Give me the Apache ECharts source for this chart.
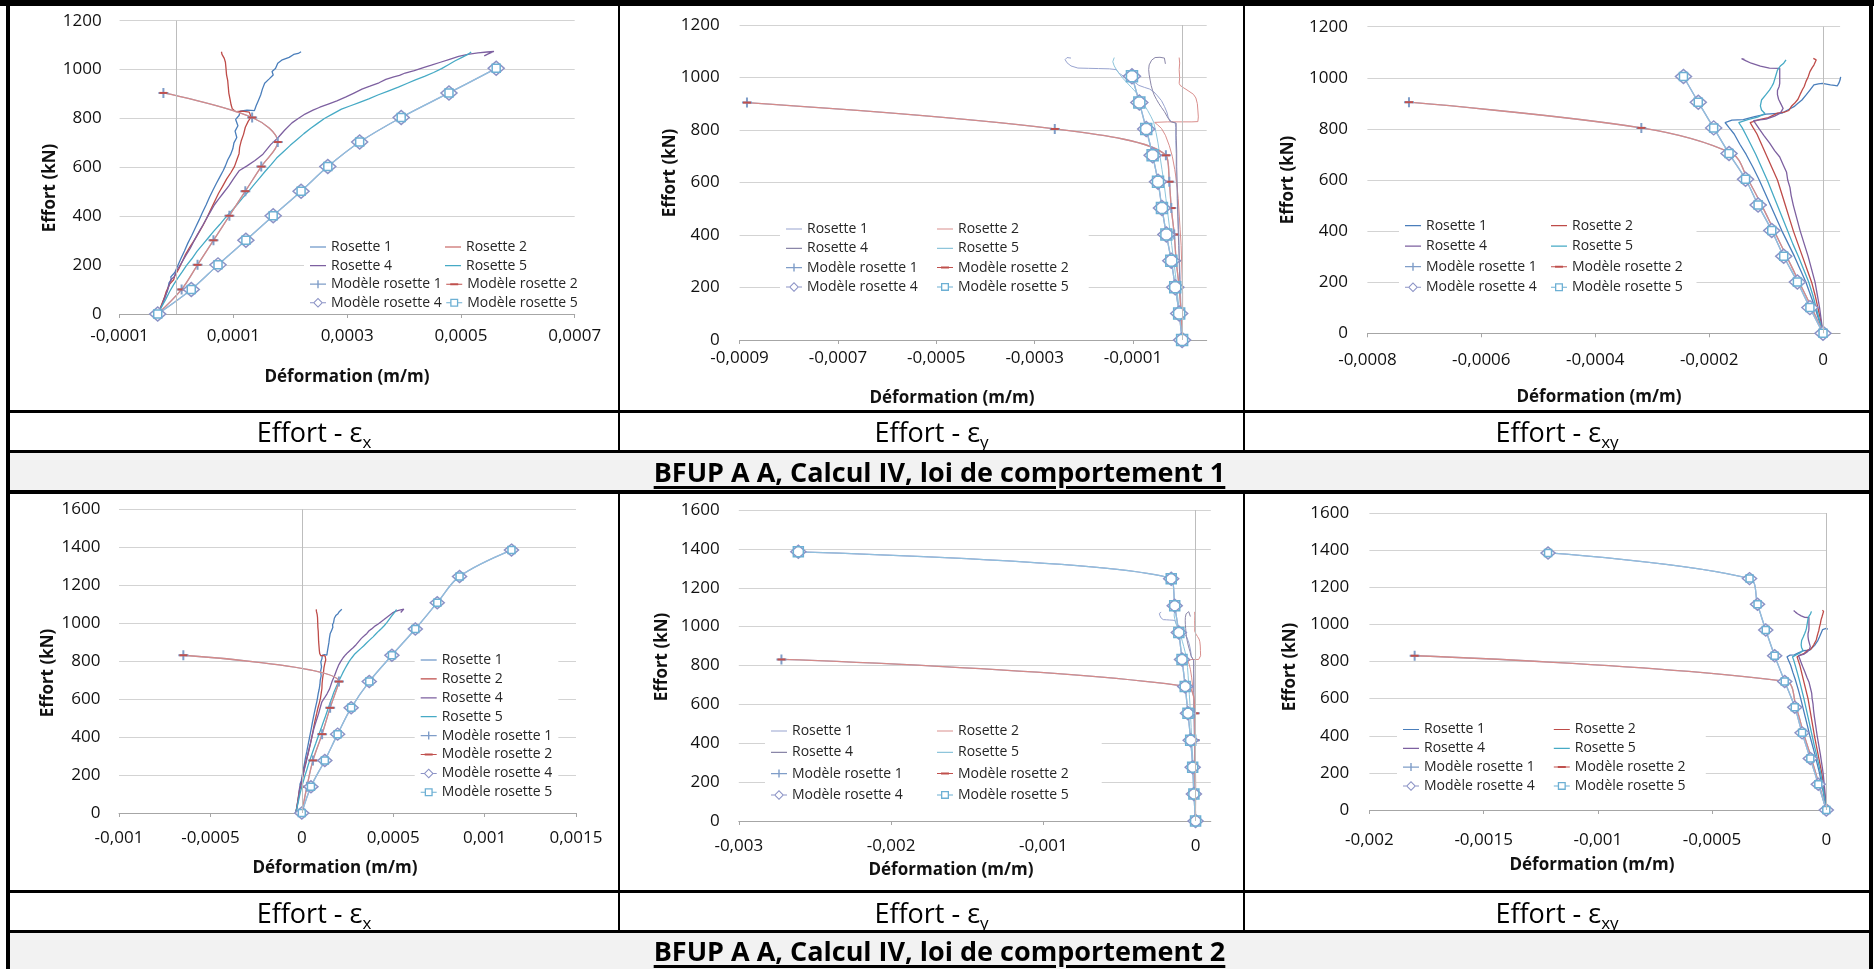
<!DOCTYPE html>
<html lang="fr">
<head>
<meta charset="utf-8">
<title>Effort - déformation, BFUP A A, Calcul IV</title>
<script src="https://cdn.jsdelivr.net/npm/echarts@6/dist/echarts.min.js"></script>
<style>
html,body{margin:0;padding:0;background:#fff;}
body{position:relative;width:1874px;height:969px;overflow:hidden;font-family:"Open Sans","Noto Sans",sans-serif;color:#000;}
.chart{position:absolute;left:0;top:0;width:1874px;height:969px;z-index:2;}
.bk{position:absolute;background:#000;z-index:5;}
.gray{position:absolute;background:#f2f2f2;z-index:0;}
.lbl{position:absolute;z-index:6;text-align:center;font-size:27px;line-height:36px;height:36px;white-space:nowrap;}
.lbl sub{font-size:17px;vertical-align:-6px;line-height:0;}
.ttl{position:absolute;z-index:6;text-align:center;font-size:27px;font-weight:700;line-height:36px;height:36px;text-decoration:underline;text-decoration-thickness:2.5px;text-underline-offset:4px;white-space:nowrap;}
</style>
</head>
<body>
<div class="gray" style="left:10px;top:453px;width:1859px;height:37px"></div>
<div class="gray" style="left:10px;top:933px;width:1859px;height:36px"></div>

<div id="pA" class="chart"></div>
<div id="pB" class="chart"></div>
<div id="pC" class="chart"></div>
<div id="pD" class="chart"></div>
<div id="pE" class="chart"></div>
<div id="pF" class="chart"></div>

<!-- table frame -->
<div class="bk" style="left:0;top:0;width:1874px;height:6px"></div>
<div class="bk" style="left:6px;top:0;width:4px;height:969px"></div>
<div class="bk" style="left:1869px;top:0;width:4px;height:969px"></div>
<div class="bk" style="left:6px;top:410px;width:1867px;height:3px"></div>
<div class="bk" style="left:6px;top:450px;width:1867px;height:3px"></div>
<div class="bk" style="left:6px;top:490px;width:1867px;height:4px"></div>
<div class="bk" style="left:6px;top:890px;width:1867px;height:3px"></div>
<div class="bk" style="left:6px;top:930px;width:1867px;height:3px"></div>
<div class="bk" style="left:618px;top:0;width:2px;height:452px"></div>
<div class="bk" style="left:1243px;top:0;width:2px;height:452px"></div>
<div class="bk" style="left:618px;top:492px;width:2px;height:440px"></div>
<div class="bk" style="left:1243px;top:492px;width:2px;height:440px"></div>

<div class="lbl" style="left:10px;width:608px;top:414px">Effort - ε<sub>x</sub></div>
<div class="lbl" style="left:620px;width:623px;top:414px">Effort - ε<sub>y</sub></div>
<div class="lbl" style="left:1245px;width:624px;top:414px">Effort - ε<sub>xy</sub></div>
<div class="ttl" style="left:10px;width:1859px;top:454px">BFUP A A, Calcul IV, loi de comportement 1</div>
<div class="lbl" style="left:10px;width:608px;top:895px">Effort - ε<sub>x</sub></div>
<div class="lbl" style="left:620px;width:623px;top:895px">Effort - ε<sub>y</sub></div>
<div class="lbl" style="left:1245px;width:624px;top:895px">Effort - ε<sub>xy</sub></div>
<div class="ttl" style="left:10px;width:1859px;top:933px">BFUP A A, Calcul IV, loi de comportement 2</div>

<script>
// ================= DATA =================
// strains in µm/m (x1e-6 m/m), loads in kN
const MICRO = 1e-6;
const NAMES = ['Rosette 1','Rosette 2','Rosette 4','Rosette 5','Modèle rosette 1','Modèle rosette 2','Modèle rosette 4','Modèle rosette 5'];

// tick labels
const xTicksA = [-0.0001, 0.0001, 0.0003, 0.0005, 0.0007];
const xTicksB = [-0.0009, -0.0007, -0.0005, -0.0003, -0.0001];
const xTicksC = [-0.0008, -0.0006, -0.0004, -0.0002, 0];
const xTicksD = [-0.001, -0.0005, 0, 0.0005, 0.001, 0.0015];
const xTicksE = [-0.003, -0.002, -0.001, 0];
const xTicksF = [-0.002, -0.0015, -0.001, -0.0005, 0];
const yTicksTop = [0, 200, 400, 600, 800, 1000, 1200];
const yTicksBottom = [0, 200, 400, 600, 800, 1000, 1200, 1400, 1600];

// measured rosettes, eps_x  [µm/m, kN]
const epsX_R1 = [[-33,0],[-27,30],[-22,62],[-16,95],[-13,128],[-9,140],[-10,152],[-3,170],[2,196],[8,228],[14,258],[20,290],[27,322],[33,352],[40,386],[45,412],[52,446],[58,478],[64,506],[70,534],[76,560],[82,586],[86,606],[90,630],[95,652],[99,676],[101,700],[106,722],[103,748],[108,770],[104,796],[110,812],[112,830],[124,834],[137,832],[140,852],[144,874],[148,896],[151,920],[155,944],[163,962],[170,978],[168,992],[174,1004],[178,1026],[186,1040],[198,1050],[206,1062],[214,1066],[219,1073]];
const epsX_R2 = [[-33,0],[-28,28],[-22,62],[-18,92],[-12,122],[-5,140],[-3,156],[4,184],[10,214],[16,244],[24,276],[32,304],[40,336],[47,364],[54,396],[60,426],[67,460],[74,494],[81,522],[88,552],[96,580],[102,604],[106,630],[110,656],[111,682],[114,710],[118,736],[121,764],[126,788],[131,806],[128,826],[116,830],[104,828],[98,840],[96,856],[94,880],[92,904],[91,930],[90,956],[88,978],[90,984],[87,1006],[86,1030],[84,1046],[80,1062],[79,1073]];
const epsX_R4 = [[-33,0],[-25,38],[-19,74],[-14,110],[-10,140],[-4,152],[0,176],[8,206],[16,238],[24,268],[31,300],[38,330],[46,362],[53,392],[60,420],[67,448],[74,470],[82,494],[92,524],[101,556],[110,586],[124,606],[138,628],[152,654],[166,694],[178,720],[190,752],[203,782],[214,800],[226,818],[240,834],[252,846],[268,860],[282,872],[298,888],[312,904],[326,920],[340,932],[356,946],[368,960],[382,970],[392,976],[402,986],[418,996],[434,1008],[448,1018],[464,1030],[480,1042],[496,1054],[512,1062],[530,1068],[546,1072],[558,1074],[548,1064],[541,1056]];
const epsX_R5 = [[-33,0],[-26,30],[-19,60],[-12,92],[-5,120],[2,146],[10,172],[18,200],[27,226],[36,256],[46,284],[56,312],[66,340],[76,366],[86,394],[96,420],[106,446],[116,474],[126,500],[136,528],[146,556],[156,584],[166,610],[176,638],[188,664],[200,690],[212,714],[224,738],[236,760],[248,780],[260,800],[274,818],[290,838],[306,852],[322,866],[338,880],[354,896],[372,912],[390,928],[406,944],[420,958],[436,972],[452,988],[466,1004],[478,1020],[490,1036],[502,1050],[512,1062],[518,1072]];

// measured rosettes, eps_y
const epsY_R1 = [[0,0],[-1,50],[-2,110],[-3,170],[-4,230],[-5,290],[-6,350],[-7,410],[-8,470],[-9,530],[-10,580],[-12,600],[-12,650],[-12,710],[-13,760],[-13,810],[-14,828],[-22,832],[-28,846],[-31,868],[-36,890],[-42,912],[-50,930],[-58,946],[-66,956],[-76,962],[-88,970],[-98,984],[-110,996],[-120,1006],[-128,1016],[-134,1030],[-148,1033],[-170,1034],[-190,1035],[-212,1036],[-226,1044],[-234,1056],[-238,1068],[-234,1076],[-226,1074]];
const epsY_R2 = [[0,0],[0,60],[1,120],[1,180],[0,240],[-1,300],[-2,360],[-4,420],[-6,480],[-8,540],[-11,600],[-15,650],[-20,700],[-26,740],[-34,780],[-42,806],[-50,820],[-56,829],[-30,831],[0,831],[20,831],[32,832],[33,850],[32,876],[31,900],[28,922],[23,936],[12,950],[2,962],[-4,970],[-6,978],[-5,1000],[-6,1030],[-5,1055],[-6,1076]];
const epsY_R4 = [[0,0],[-2,60],[-3,120],[-4,180],[-5,240],[-6,300],[-7,360],[-8,420],[-9,480],[-10,540],[-10,600],[-11,660],[-11,720],[-12,780],[-12,826],[-24,832],[-30,850],[-36,870],[-42,886],[-47,900],[-52,916],[-57,934],[-60,950],[-63,970],[-65,990],[-67,1010],[-68,1030],[-67,1048],[-62,1066],[-55,1076],[-45,1077],[-36,1074],[-34,1052]];
const epsY_R5 = [[0,0],[-3,60],[-6,120],[-10,180],[-13,240],[-17,300],[-21,360],[-25,420],[-29,480],[-33,540],[-37,600],[-41,650],[-45,700],[-49,750],[-53,790],[-58,830],[-63,850],[-70,874],[-78,898],[-86,922],[-94,944],[-103,962],[-112,980],[-120,996],[-127,1012],[-133,1028],[-138,1044],[-141,1060],[-138,1076]];

// measured rosettes, eps_xy
const epsXY_R1 = [[0,0],[-7,50],[-14,100],[-22,150],[-30,200],[-40,250],[-50,300],[-61,350],[-72,400],[-82,450],[-92,500],[-102,550],[-112,600],[-123,650],[-135,700],[-146,740],[-156,780],[-165,805],[-172,825],[-175,832],[-160,834],[-140,836],[-120,848],[-100,858],[-86,860],[-72,862],[-62,874],[-51,887],[-44,900],[-37,913],[-30,932],[-23,952],[-16,972],[-8,976],[-1,978],[6,975],[13,972],[20,970],[25,968],[28,980],[30,992],[31,1004]];
const epsXY_R2 = [[0,0],[-4,50],[-9,100],[-14,150],[-20,200],[-28,250],[-36,300],[-44,350],[-52,400],[-59,450],[-66,500],[-73,550],[-80,600],[-90,650],[-100,700],[-108,740],[-116,780],[-123,806],[-128,825],[-130,832],[-112,836],[-96,844],[-80,862],[-68,866],[-60,872],[-55,890],[-50,900],[-44,916],[-40,936],[-36,954],[-33,966],[-30,985],[-26,1004],[-23,1024],[-19,1040],[-16,1050],[-12,1070],[-17,1076]];
const epsXY_R4 = [[0,0],[-3,50],[-6,100],[-10,150],[-14,200],[-20,250],[-26,300],[-33,350],[-40,400],[-46,450],[-52,500],[-56,540],[-58,570],[-62,600],[-64,630],[-70,660],[-76,690],[-85,715],[-94,745],[-104,775],[-112,800],[-118,820],[-122,832],[-100,838],[-85,850],[-75,862],[-70,880],[-74,898],[-78,916],[-80,934],[-80,950],[-77,966],[-76,978],[-76,1010],[-76,1037],[-94,1038],[-110,1046],[-126,1057],[-135,1066],[-143,1075],[-138,1072]];
const epsXY_R5 = [[0,0],[-6,50],[-12,100],[-18,150],[-25,200],[-34,250],[-43,300],[-53,350],[-62,400],[-71,450],[-80,500],[-89,550],[-98,600],[-108,650],[-118,700],[-127,740],[-135,775],[-142,805],[-148,825],[-150,832],[-132,836],[-115,846],[-102,860],[-108,874],[-110,890],[-108,913],[-101,932],[-94,952],[-90,966],[-87,978],[-84,1000],[-80,1030],[-75,1046],[-69,1057],[-65,1070]];

// model load steps (kN)
const loadsLoi1 = [0, 100.5, 201, 301.5, 402, 502.5, 603, 703.5, 804, 904.5, 1005];
const loadsLoi2 = [0, 138.5, 277, 415.5, 554, 692.5, 831, 969.5, 1108, 1246.5, 1385];

// model strains (µm/m) : A = Modèle rosettes 1 & 2, B = Modèle rosettes 4 & 5
const modelX_loi1_A  = [-33, 9, 37, 65, 93, 121, 149, 178, 133, -23];
const modelX_loi1_B  = [-33, 26, 73, 122, 170, 219, 266, 322, 395, 479, 562];
const modelY_loi1_A  = [0, -2, -6, -12, -16, -22, -26, -33, -259, -885];
const modelY_loi1_B  = [0, -6, -14, -22, -32, -41, -49, -60, -73, -87, -102];
const modelXY_loi1_A = [0, -20, -42, -64, -86, -108, -132, -160, -319, -727];
const modelXY_loi1_B = [0, -23, -45, -69, -90, -114, -136, -165, -192, -219, -245];
const modelX_loi2_A  = [0, 28, 61, 111, 155, 203, -648];
const modelX_loi2_B  = [0, 50, 126, 196, 270, 369, 493, 621, 741, 863, 1147];
const modelY_loi2_A  = [0, -3, -4, -4, -5, -60, -2720];
const modelY_loi2_B  = [0, -11, -19, -32, -50, -68, -89, -110, -137, -160, -2609];
const modelXY_loi2_A = [0, -32, -65, -100, -132, -178, -1802];
const modelXY_loi2_B = [0, -35, -70, -106, -138, -182, -226, -265, -301, -336, -1218];

// ================= STYLE / BUILD =================
const FONT = '"Open Sans", "Noto Sans", sans-serif';
const COL_STD = {R1:'#4A7EBB', R2:'#BE4B48', R4:'#7D60A0', R5:'#46AAC5'};
const COL_FADED = {R1:'#98A3CF', R2:'#D98F8D', R4:'#8A86A8', R5:'#8EC5DB'};
const MC = {M1:'#9DB6D8', M1s:'#7F9DC8', M2:'#D58A88', M2s:'#C0504D', M4:'#A99BC9', M4s:'#8C93C6', M5:'#8FBFDD', M5s:'#6DB0D4'};
const PLUS = 'path://M4,0H6V4H10V6H6V10H4V6H0V4H4Z';

// legend icons drawn in a 16x12 box (hairlines at top/bottom fix the box)
const BOX_T = 'M0,0H16V0.01H0Z ', BOX_B = ' M0,11.99H16V12H0Z';
const ICON_LINE = 'path://' + BOX_T + 'M0,5.4H16V6.6H0Z' + BOX_B;
const ICON_PLUS = 'path://' + BOX_T + 'M0,5.4H16V6.6H0Z M7.3,2H8.7V10H7.3Z' + BOX_B;
const ICON_DASH = 'path://' + BOX_T + 'M0,5.5H16V6.5H0Z M4,5H12V7H4Z' + BOX_B;
const ICON_DIAM = 'path://' + BOX_T + 'M0,5.5H3.2V6.5H0Z M12.8,5.5H16V6.5H12.8Z M8,1L13,6L8,11L3,6Z M8,2.5L4.5,6L8,9.5L11.5,6Z' + BOX_B;
const ICON_SQR = 'path://' + BOX_T + 'M0,5.5H4V6.5H0Z M12,5.5H16V6.5H12Z M4,2H12V10H4Z M5.3,3.3V8.7H10.7V3.3Z' + BOX_B;

const toPairs = arr => arr.map(([u, f]) => [u * MICRO, f]);
const modelPairs = (xs, loads) => xs.map((u, i) => [u * MICRO, loads[i]]);
function fmt(v) {
  if (Math.abs(v) < 1e-12) return '0';
  return String(parseFloat(v.toPrecision(6))).replace('.', ',');
}

function build(p) {
  const chart = echarts.init(document.getElementById(p.id), null, {renderer: 'canvas'});
  const c = p.faded ? COL_FADED : COL_STD;
  const lw = p.faded ? 1 : 1.3;
  const ros = (name, arr, color) => ({
    type: 'line', name, data: toPairs(arr), symbol: 'none', showSymbol: false,
    lineStyle: {color, width: lw}, itemStyle: {color}, emphasis: {disabled: true}
  });
  const series = [
    ros(NAMES[0], p.ros[0], c.R1),
    ros(NAMES[1], p.ros[1], c.R2),
    ros(NAMES[2], p.ros[2], c.R4),
    ros(NAMES[3], p.ros[3], c.R5),
    {type: 'line', name: NAMES[4], data: modelPairs(p.mA, p.loads), smooth: 0.35,
     symbol: PLUS, symbolSize: 10, lineStyle: {color: MC.M1, width: 1.3}, itemStyle: {color: MC.M1s}, emphasis: {disabled: true}},
    {type: 'line', name: NAMES[5], data: modelPairs(p.mA, p.loads), smooth: 0.35,
     symbol: 'rect', symbolSize: [8, 2], lineStyle: {color: MC.M2, width: 1.3}, itemStyle: {color: MC.M2s}, emphasis: {disabled: true}},
    {type: 'line', name: NAMES[6], data: modelPairs(p.mB, p.loads), smooth: 0.35,
     symbol: 'diamond', symbolSize: p.dia, lineStyle: {color: MC.M4, width: 1.3},
     itemStyle: {color: '#ffffff', borderColor: MC.M4s, borderWidth: 1.5}, emphasis: {disabled: true}},
    {type: 'line', name: NAMES[7], data: modelPairs(p.mB, p.loads), smooth: 0.35,
     symbol: 'rect', symbolSize: p.sq, lineStyle: {color: MC.M5, width: 1.3},
     itemStyle: {color: 'rgba(255,255,255,0)', borderColor: MC.M5s, borderWidth: 1.5}, emphasis: {disabled: true}}
  ];
  series[0].markLine = {
    silent: true, symbol: ['none', 'none'], label: {show: false},
    lineStyle: {color: '#bdbdbd', width: 1, type: 'solid'}, emphasis: {disabled: true},
    data: [{xAxis: 0}]
  };

  const L = p.legend;
  const pad = [3, 6, 3, 6];
  const iconW = 16;
  const gap = L.rowPitch - 14;
  const icons = [ICON_LINE, ICON_LINE, ICON_LINE, ICON_LINE, ICON_PLUS, ICON_DASH, ICON_DIAM, ICON_SQR];
  const iconColors = [c.R1, c.R2, c.R4, c.R5, MC.M1s, MC.M2s, MC.M4s, MC.M5s];
  const legend = {
    orient: L.vertical ? 'vertical' : 'horizontal',
    left: L.textX - iconW - 5 - pad[3],
    top: L.row1 - 7 - pad[0],
    padding: pad, itemGap: gap, itemWidth: iconW, itemHeight: 12,
    backgroundColor: '#ffffff', selectedMode: false,
    textStyle: {fontFamily: FONT, fontSize: 14, color: '#262626', lineHeight: 14},
    data: NAMES.map((n, i) => ({
      name: n, icon: icons[i],
      itemStyle: {color: iconColors[i], borderWidth: 0, borderColor: 'transparent', opacity: 1},
      lineStyle: {width: 0, opacity: 0}
    }))
  };
  if (!L.vertical) {
    legend.width = 2 * L.colPitch + 30;
    legend.textStyle.width = L.colPitch - iconW - 5 - gap;
  }

  chart.setOption({
    animation: false,
    backgroundColor: 'transparent',
    grid: Object.assign({containLabel: false, outerBoundsMode: 'none'}, p.grid),
    xAxis: {
      type: 'value', min: p.xMin, max: p.xMax,
      axisLine: {show: true, onZero: false, lineStyle: {color: '#a6a6a6', width: 1}},
      axisTick: {show: true, customValues: p.xTicks, length: 4, lineStyle: {color: '#a6a6a6'}},
      axisLabel: {customValues: p.xTicks, formatter: fmt, margin: p.xLM, fontFamily: FONT, fontSize: 17, color: '#111'},
      splitLine: {show: false}
    },
    yAxis: {
      type: 'value', min: 0, max: p.yTicks[p.yTicks.length - 1], interval: 200,
      axisLine: {show: false}, axisTick: {show: false},
      axisLabel: {margin: p.yLM, fontFamily: FONT, fontSize: 17, color: '#111', formatter: v => String(v)},
      splitLine: {show: true, lineStyle: {color: '#d3d3d3', width: 1}}
    },
    legend,
    graphic: [
      {type: 'text', x: p.xTitle[0], y: p.xTitle[1], silent: true,
       style: {text: 'Déformation (m/m)', font: 'bold 17px ' + FONT, fill: '#111', align: 'center', verticalAlign: 'middle'}},
      {type: 'text', x: p.yTitle[0], y: p.yTitle[1], rotation: Math.PI / 2, silent: true,
       style: {text: 'Effort (kN)', font: 'bold 17px ' + FONT, fill: '#111', align: 'center', verticalAlign: 'middle'}}
    ],
    series
  });
}

const panels = [
  {id: 'pA', grid: {left: 119.6, top: 20.7, width: 455.1, height: 293.3}, xMin: -0.0001, xMax: 0.0007, xTicks: xTicksA, yTicks: yTicksTop,
   yLM: 18, xLM: 14, faded: false, ros: [epsX_R1, epsX_R2, epsX_R4, epsX_R5], mA: modelX_loi1_A, mB: modelX_loi1_B, loads: loadsLoi1,
   legend: {textX: 331, row1: 247, colPitch: 135, rowPitch: 18.6}, xTitle: [347, 377], yTitle: [50, 188], dia: [16, 14], sq: 8},
  {id: 'pB', grid: {left: 739.6, top: 25, width: 467.1, height: 315}, xMin: -0.0009, xMax: 0.00005, xTicks: xTicksB, yTicks: yTicksTop,
   yLM: 20, xLM: 10, faded: true, ros: [epsY_R1, epsY_R2, epsY_R4, epsY_R5], mA: modelY_loi1_A, mB: modelY_loi1_B, loads: loadsLoi1,
   legend: {textX: 807, row1: 229, colPitch: 151, rowPitch: 19.3}, xTitle: [952, 398], yTitle: [670, 173], dia: [17, 15], sq: 11},
  {id: 'pC', grid: {left: 1367.4, top: 26.7, width: 472.7, height: 306.6}, xMin: -0.0008, xMax: 0.00003, xTicks: xTicksC, yTicks: yTicksTop,
   yLM: 19.4, xLM: 18.5, faded: false, ros: [epsXY_R1, epsXY_R2, epsXY_R4, epsXY_R5], mA: modelXY_loi1_A, mB: modelXY_loi1_B, loads: loadsLoi1,
   legend: {textX: 1426, row1: 225.7, colPitch: 146, rowPitch: 20.5}, xTitle: [1599, 397], yTitle: [1288, 180], dia: [16, 14], sq: 8},
  {id: 'pD', grid: {left: 119, top: 509.3, width: 457, height: 303.7}, xMin: -0.001, xMax: 0.0015, xTicks: xTicksD, yTicks: yTicksBottom,
   yLM: 18.6, xLM: 16.5, faded: false, ros: [epsX_R1, epsX_R2, epsX_R4, epsX_R5], mA: modelX_loi2_A, mB: modelX_loi2_B, loads: loadsLoi2,
   legend: {vertical: true, textX: 441.7, row1: 660, rowPitch: 18.9}, xTitle: [335, 868], yTitle: [48, 673], dia: [14, 12], sq: 7},
  {id: 'pE', grid: {left: 738.8, top: 510, width: 472, height: 311}, xMin: -0.003, xMax: 0.0001, xTicks: xTicksE, yTicks: yTicksBottom,
   yLM: 19.2, xLM: 17, faded: true, ros: [epsY_R1, epsY_R2, epsY_R4, epsY_R5], mA: modelY_loi2_A, mB: modelY_loi2_B, loads: loadsLoi2,
   legend: {textX: 792, row1: 731, colPitch: 166, rowPitch: 21.3}, xTitle: [951, 870], yTitle: [662, 657], dia: [15, 13], sq: 10},
  {id: 'pF', grid: {left: 1369.4, top: 513, width: 456.9, height: 297}, xMin: -0.002, xMax: 0, xTicks: xTicksF, yTicks: yTicksBottom,
   yLM: 20.3, xLM: 21.5, faded: false, ros: [epsXY_R1, epsXY_R2, epsXY_R4, epsXY_R5], mA: modelXY_loi2_A, mB: modelXY_loi2_B, loads: loadsLoi2,
   legend: {textX: 1424, row1: 729.5, colPitch: 150.8, rowPitch: 18.8}, xTitle: [1592, 865], yTitle: [1290, 667], dia: [14, 12], sq: 7}
];

panels.forEach(build);
</script>
</body>
</html>
